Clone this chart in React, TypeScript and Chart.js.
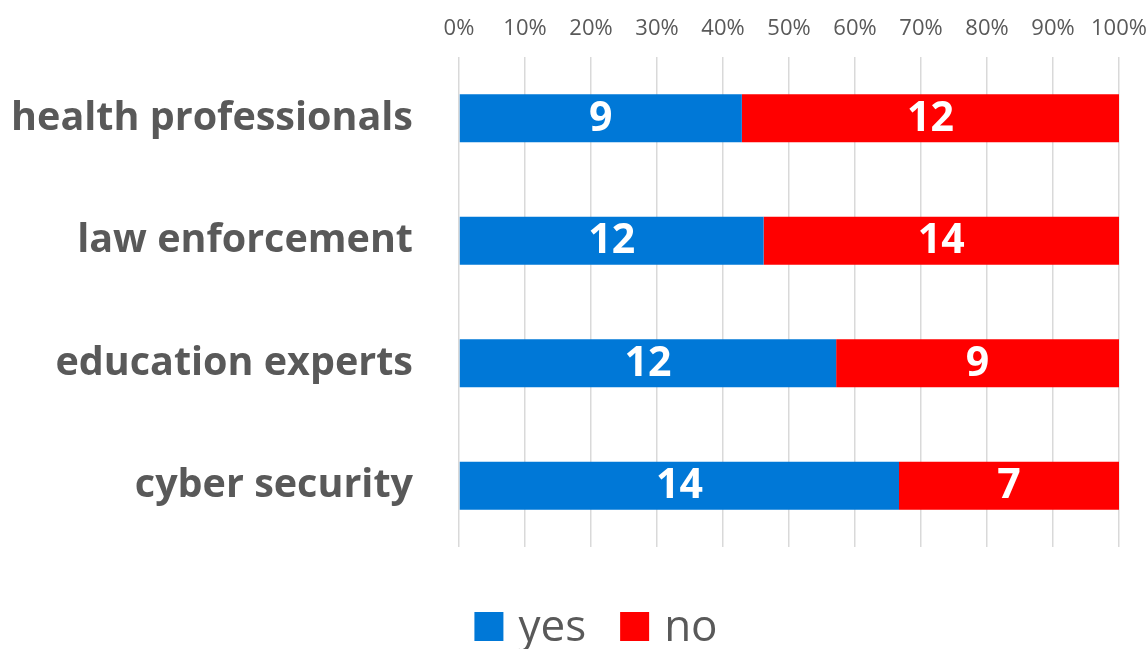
import React, { useEffect, useRef } from "react";
import { Chart, registerables } from "chart.js";

Chart.register(...registerables);

const categories = ["health professionals", "law enforcement", "education experts", "cyber security"];
const yesValues = [9, 12, 12, 14];
const noValues = [12, 14, 9, 7];
const tickLabels = ["0%", "10%", "20%", "30%", "40%", "50%", "60%", "70%", "80%", "90%", "100%"];
const seriesNames = ["yes", "no"];
const seriesColors = ["#0078D7", "#FF0000"];

const FONT = "'Open Sans', 'DejaVu Sans', sans-serif";
const TEXT_GRAY = "#595959";

const totals = categories.map((_, i) => yesValues[i] + noValues[i]);
const toPct = (arr: number[]) => arr.map((v, i) => (v / totals[i]) * 100);
const rawSeries = [yesValues, noValues];

const dataLabelPlugin = {
  id: "dataLabels",
  afterDatasetsDraw(chart: any) {
    const ctx = chart.ctx;
    ctx.save();
    ctx.fillStyle = "#FFFFFF";
    ctx.font = `bold 41px ${FONT}`;
    ctx.textAlign = "center";
    ctx.textBaseline = "middle";
    chart.data.datasets.forEach((ds: any, di: number) => {
      const meta = chart.getDatasetMeta(di);
      meta.data.forEach((el: any, i: number) => {
        const cx = (el.x + el.base) / 2;
        ctx.fillText(String(rawSeries[di][i]), cx, el.y + 1);
      });
    });
    ctx.restore();
  },
};

const customLegendPlugin = {
  id: "customLegend",
  afterDraw(chart: any) {
    const ctx = chart.ctx;
    ctx.save();
    ctx.font = `44px ${FONT}`;
    ctx.textBaseline = "alphabetic";
    ctx.textAlign = "left";
    const boxW = 29;
    const boxH = 29;
    const gapBoxText = 15;
    const gapItems = 34;
    const items = chart.data.datasets.map((ds: any) => ({
      label: ds.label,
      color: ds.backgroundColor,
      w: ctx.measureText(ds.label).width,
    }));
    const total = items.reduce((s: number, it: any, idx: number) => s + boxW + gapBoxText + it.w + (idx > 0 ? gapItems : 0), 0);
    const centerX = 596;
    let x = centerX - total / 2;
    const boxTop = 612;
    items.forEach((it: any) => {
      ctx.fillStyle = it.color;
      ctx.fillRect(x, boxTop, boxW, boxH);
      x += boxW + gapBoxText;
      ctx.fillStyle = TEXT_GRAY;
      ctx.fillText(it.label, x, boxTop + boxH);
      x += it.w + gapItems;
    });
    ctx.restore();
  },
};

export default function App() {
  const canvasRef = useRef<HTMLCanvasElement | null>(null);

  useEffect(() => {
    document.body.style.margin = "0";
    if (!canvasRef.current) return;
    const chart = new Chart(canvasRef.current, {
      type: "bar",
      data: {
        labels: categories,
        datasets: [
          { label: seriesNames[0], data: toPct(yesValues), backgroundColor: seriesColors[0], borderWidth: 0 },
          { label: seriesNames[1], data: toPct(noValues), backgroundColor: seriesColors[1], borderWidth: 0 },
        ],
      },
      options: {
        indexAxis: "y",
        animation: false,
        responsive: true,
        maintainAspectRatio: false,
        layout: { padding: { top: 0, right: 29, bottom: 102, left: 0 } },
        datasets: { bar: { barPercentage: 1, categoryPercentage: 0.392 } },
        plugins: {
          legend: { display: false },
          tooltip: { enabled: false },
        },
        scales: {
          x: {
            position: "top",
            stacked: true,
            min: 0,
            max: 100,
            ticks: {
              stepSize: 10,
              padding: 15,
              color: TEXT_GRAY,
              font: { family: FONT, size: 22 },
              callback: (v: any) => tickLabels[Math.round(Number(v) / 10)],
            },
            grid: { color: "#D9D9D9", lineWidth: 1.5, drawTicks: false },
            border: { display: false },
            afterFit: (scale: any) => {
              scale.height = 57;
              scale.paddingLeft = 0;
              scale.paddingRight = 0;
            },
          },
          y: {
            stacked: true,
            ticks: {
              padding: 46,
              color: TEXT_GRAY,
              font: { family: FONT, size: 39.5, weight: "bold" },
            },
            grid: { display: false, drawTicks: false },
            border: { display: false },
            afterFit: (scale: any) => {
              scale.width = 459;
              scale.paddingTop = 0;
              scale.paddingBottom = 0;
            },
          },
        },
      },
      plugins: [dataLabelPlugin, customLegendPlugin],
    });
    return () => chart.destroy();
  }, []);

  return (
    <div style={{ width: "1148px", height: "649px", position: "relative", overflow: "hidden" }}>
      <style>{"html,body{margin:0;padding:0;overflow:hidden;}"}</style>
      <canvas ref={canvasRef} />
    </div>
  );
}
